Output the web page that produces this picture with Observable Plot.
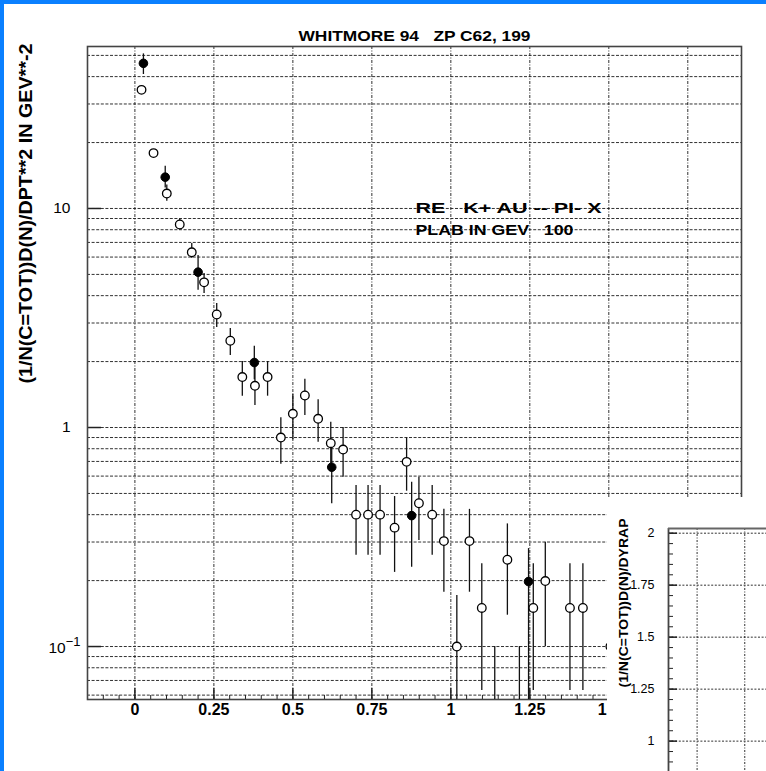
<!DOCTYPE html>
<html>
<head>
<meta charset="utf-8">
<script src="https://cdn.jsdelivr.net/npm/d3@7"></script>
<script src="https://cdn.jsdelivr.net/npm/@observablehq/plot@0.6"></script>
<style>
  html, body { margin: 0; padding: 0; background: #fff; }
  #wrap { position: relative; width: 766px; height: 771px; overflow: hidden; background: #fff; }
  #main { position: absolute; left: 0; top: 0; }
  #inset { position: absolute; left: 607px; top: 497px; width: 159px; height: 274px; background: #fff; }
  .band { position: absolute; background: #0a80ff; z-index: 5; }
  svg text { white-space: pre; }
</style>
</head>
<body>
<div id="wrap">
  <div id="main"></div>
  <div id="inset"></div>
  <div class="band" style="left:0;top:0;width:766px;height:4px"></div>
  <div class="band" style="left:0;top:0;width:4px;height:771px"></div>
</div>
<script>
// ---------- texts ----------
const titleText = "WHITMORE 94   ZP C62, 199";
const yTitleText = "(1/N(C=TOT))D(N)/DPT**2 IN GEV**-2";
const annLine1 = "RE   K+ AU -- PI- X";
const annLine2 = "PLAB IN GEV   100";
const insetTitleText = "(1/N(C=TOT))D(N)/DYRAP";

// ---------- tick values / labels ----------
const xTickVals = [0, 0.25, 0.5, 0.75, 1, 1.25, 1.5, 1.75];
const xTickLabels = ["0", "0.25", "0.5", "0.75", "1", "1.25", "1.5", "1.75"];
const yTickVals = [10, 1, 0.1];
const yTickLabels = ["10", "1"];
const yTickLabelPow = ["10^-1"];
const yGridVals = [0.06, 0.07, 0.08, 0.09, 0.1, 0.2, 0.3, 0.4, 0.5, 0.6, 0.7, 0.8, 0.9,
                   1, 2, 3, 4, 5, 6, 7, 8, 9, 10, 20, 30, 40, 50];
const insetYTickVals = [2, 1.75, 1.5, 1.25, 1];
const insetYTickLabels = ["2", "1.75", "1.5", "1.25", "1"];
const insetXGridVals = [0, 1];

// ---------- data: open circles ----------
const openX  = [0.021, 0.059, 0.101, 0.142, 0.180, 0.219, 0.259, 0.302, 0.340, 0.380, 0.420, 0.462,
                0.500, 0.538, 0.580, 0.620, 0.659, 0.700, 0.738, 0.776, 0.822, 0.860, 0.899, 0.941,
                0.978, 1.019, 1.059, 1.098, 1.139, 1.179, 1.217, 1.261, 1.299, 1.377, 1.418, 1.505];
const openY  = [34.8, 17.9, 11.7, 8.45, 6.31, 4.6, 3.28, 2.49, 1.70, 1.55, 1.70, 0.90,
                1.155, 1.40, 1.096, 0.848, 0.793, 0.40, 0.40, 0.40, 0.349, 0.697, 0.451, 0.40,
                0.303, 0.10, 0.303, 0.150, 0.04, 0.249, 0.04, 0.150, 0.199, 0.150, 0.150, 0.10];
const openLo = [33.8, 17.2, 10.8, 8.0, 5.92, 4.09, 2.86, 2.13, 1.39, 1.26, 1.39, 0.68,
                0.879, 1.135, 0.857, 0.68, 0.593, 0.261, 0.261, 0.261, 0.218, 0.512, 0.305, 0.261,
                0.177, 0.03, 0.177, 0.063, 0.02, 0.139, 0.02, 0.063, 0.10, 0.063, 0.063, 0.06];
const openHi = [35.8, 18.6, 12.8, 8.95, 6.92, 5.05, 3.68, 2.83, 2.0, 1.9, 2.0, 1.107,
                1.42, 1.66, 1.34, 1.057, 1.0, 0.543, 0.543, 0.543, 0.484, 0.897, 0.593, 0.543,
                0.423, 0.171, 0.423, 0.239, 0.10, 0.363, 0.10, 0.239, 0.299, 0.239, 0.239, 0.17];

// ---------- data: filled circles ----------
const fillX  = [0.027, 0.096, 0.200, 0.378, 0.623, 0.876, 1.246];
const fillY  = [46, 13.9, 5.12, 1.98, 0.659, 0.396, 0.198];
const fillLo = [40.9, 12.4, 4.23, 1.65, 0.449, 0.230, 0.04];
const fillHi = [50.8, 15.6, 6.1, 2.35, 0.85, 0.563, 0.280];

const openData = openX.map((x, i) => ({x, y: openY[i], lo: openLo[i], hi: openHi[i]}));
const fillData = fillX.map((x, i) => ({x, y: fillY[i], lo: fillLo[i], hi: fillHi[i]}));

const xMinor = d3.range(-3, 39).map(k => Math.round(k * 5) / 100);
const insetMinor = d3.range(18, 41).map(k => Math.round(k * 5) / 100);

const FONT = "'Liberation Sans', Arial, Helvetica, sans-serif";
const GRID = "#1a1a1a";

const main = Plot.plot({
  width: 766, height: 771,
  marginLeft: 87, marginTop: 46, marginRight: 25, marginBottom: 72,
  x: {domain: [-0.15, 1.92], axis: null},
  y: {type: "log", domain: [0.0573, 54.9], axis: null},
  style: {fontFamily: FONT, background: "transparent", color: "#000"},
  marks: [
    Plot.ruleY(yGridVals, {stroke: GRID, strokeWidth: 0.9, strokeDasharray: "3,1.6"}),
    Plot.ruleX(xTickVals, {stroke: GRID, strokeWidth: 0.9, strokeDasharray: "3,1.5,1,1.5"}),
    Plot.tickX(xMinor, {x: d => d, insetTop: 649, stroke: "#222", strokeWidth: 1}),
    Plot.tickX(xTickVals, {x: d => d, insetTop: 642, stroke: "#222", strokeWidth: 1.5}),
    Plot.tickY(yTickVals, {y: d => d, insetRight: 640, stroke: "#222", strokeWidth: 1.5}),
    Plot.frame({stroke: "#444", strokeWidth: 1.6}),
    Plot.ruleX(openData, {x: "x", y1: "lo", y2: "hi", stroke: "#111", strokeWidth: 1.3, clip: true}),
    Plot.ruleX(fillData, {x: "x", y1: "lo", y2: "hi", stroke: "#111", strokeWidth: 1.3, clip: true}),
    Plot.dot(openData, {x: "x", y: "y", r: 4.3, fill: "#fff", stroke: "#000", strokeWidth: 1.3, clip: true}),
    Plot.dot(fillData, {x: "x", y: "y", r: 4.3, fill: "#000", stroke: "#000", strokeWidth: 1, clip: true}),
    Plot.text(xTickVals, {x: d => d, text: (d, i) => xTickLabels[i], frameAnchor: "bottom", dy: 15,
      fontSize: 16, fontWeight: "bold", letterSpacing: 1.8, fill: "#000"}),
    Plot.text(yTickVals.slice(0, 2), {y: d => d, text: (d, i) => yTickLabels[i], frameAnchor: "left", dx: -17,
      textAnchor: "end", fontSize: 15.5, fill: "#000"}),
    Plot.text(yTickVals.slice(2), {y: d => d, text: (d, i) => yTickLabelPow[i], frameAnchor: "left", dx: -7,
      dy: 2, textAnchor: "end", fontSize: 15.5, fill: "#000"}),
    Plot.text([titleText], {text: d => d, frameAnchor: "top", dy: -16, fontSize: 14.5, fontWeight: "bold", fill: "#000"}),
    Plot.text([yTitleText], {text: d => d, frameAnchor: "top-left", dx: -62, dy: -3, rotate: -90,
      textAnchor: "end", lineAnchor: "middle", fontSize: 19, fontWeight: "bold", fill: "#000"}),
    Plot.text([annLine1], {text: d => d, frameAnchor: "top-left", dx: 328, dy: 157, textAnchor: "start",
      fontSize: 14, fontWeight: "bold", fill: "#000"}),
    Plot.text([annLine2], {text: d => d, frameAnchor: "top-left", dx: 328, dy: 179, textAnchor: "start",
      fontSize: 14, fontWeight: "bold", fill: "#000"})
  ]
});
document.getElementById("main").appendChild(main);

const inset = Plot.plot({
  width: 159, height: 274,
  marginLeft: 61, marginTop: 31, marginRight: 0, marginBottom: 0,
  x: {domain: [-0.6, 1.456], axis: null},
  y: {domain: [0.854, 2.0226], axis: null},
  style: {fontFamily: FONT, background: "#fff", color: "#000", overflow: "visible"},
  marks: [
    Plot.ruleY(insetYTickVals, {stroke: GRID, strokeWidth: 0.9, strokeDasharray: "2,1.6"}),
    Plot.ruleX(insetXGridVals, {stroke: GRID, strokeWidth: 0.9, strokeDasharray: "2,1.5,1,1.5"}),
    Plot.tickY(insetMinor, {y: d => d, insetRight: 93, stroke: "#222", strokeWidth: 1}),
    Plot.tickY(insetYTickVals, {y: d => d, insetRight: 89, stroke: "#222", strokeWidth: 1.5}),
    Plot.ruleX([-0.6], {stroke: "#444", strokeWidth: 1.8}),
    Plot.ruleY([2.0226], {stroke: "#666", strokeWidth: 2}),
    Plot.text(insetYTickVals, {y: d => d, text: (d, i) => insetYTickLabels[i], frameAnchor: "left", dx: -14,
      textAnchor: "end", fontSize: 12.5, fill: "#000"}),
    Plot.text([insetTitleText], {text: d => d, frameAnchor: "top-left", dx: -45, dy: -10, rotate: -90,
      textAnchor: "end", lineAnchor: "middle", fontSize: 13, fontWeight: "bold", fill: "#000"})
  ]
});
document.getElementById("inset").appendChild(inset);

// fit text lengths to the reference and build the superscript label
function fit(svg, content, len, adjust) {
  d3.select(svg).selectAll("text").each(function () {
    if (this.textContent === content) {
      this.setAttribute("textLength", len);
      this.setAttribute("lengthAdjust", adjust || "spacingAndGlyphs");
    }
  });
}
fit(main, titleText, 232);
fit(main, yTitleText, 340);
fit(main, annLine1, 186);
fit(main, annLine2, 158);
fit(inset, insetTitleText, 169);
d3.select(main).selectAll("text").each(function () {
  if (this.textContent === "10^-1") {
    const t = d3.select(this);
    t.text("10");
    t.append("tspan").attr("dy", "-0.6em").attr("font-size", 13).text("\u22121");
  }
});
</script>
</body>
</html>
